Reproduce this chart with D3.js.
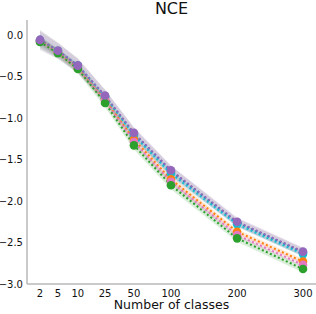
<!DOCTYPE html>
<html>
<head>
<meta charset="utf-8">
<script src="https://cdn.jsdelivr.net/npm/d3@7"></script>
<style>
  body { margin: 0; background: #fff; }
  text { font-family: "DejaVu Sans", sans-serif; }
</style>
</head>
<body>
<div id="chart"></div>
<script>
const classes = [2, 5, 10, 25, 50, 100, 200, 300];
const yTicks = [0, -0.5, -1, -1.5, -2, -2.5, -3];

const blueVals   = [-0.06, -0.19, -0.37, -0.74, -1.19, -1.64, -2.26, -2.62];
const cyanVals   = [-0.07, -0.20, -0.38, -0.75, -1.21, -1.67, -2.28, -2.64];
const orangeVals = [-0.07, -0.21, -0.40, -0.78, -1.26, -1.74, -2.37, -2.73];
const pinkVals   = [-0.08, -0.21, -0.40, -0.79, -1.29, -1.77, -2.41, -2.77];
const greenVals  = [-0.085, -0.22, -0.41, -0.82, -1.33, -1.81, -2.45, -2.82];
const purpleVals = [-0.06, -0.19, -0.37, -0.73, -1.18, -1.63, -2.25, -2.61];
// half-widths of the shaded bands
const blueErr   = [0.12, 0.10, 0.09, 0.08, 0.07, 0.06, 0.05, 0.05];
const cyanErr   = [0.05, 0.04, 0.04, 0.04, 0.04, 0.04, 0.03, 0.03];
const orangeErr = [0.04, 0.04, 0.04, 0.04, 0.04, 0.04, 0.03, 0.03];
const pinkErr   = [0.04, 0.04, 0.04, 0.04, 0.04, 0.04, 0.03, 0.03];
const greenErr  = [0.06, 0.05, 0.05, 0.05, 0.05, 0.05, 0.04, 0.04];
const purpleErr = [0.10, 0.09, 0.08, 0.07, 0.07, 0.06, 0.05, 0.05];

const colors = {
  blue: '#1f77b4', cyan: '#17becf', orange: '#ff7f0e',
  pink: '#e377c2', green: '#2ca02c', purple: '#9467bd', gray: '#7f7f7f'
};
const series = [
  { name: 'blue', vals: blueVals, err: blueErr },
  { name: 'cyan', vals: cyanVals, err: cyanErr },
  { name: 'orange', vals: orangeVals, err: orangeErr },
  { name: 'pink', vals: pinkVals, err: pinkErr },
  { name: 'green', vals: greenVals, err: greenErr },
  { name: 'purple', vals: purpleVals, err: purpleErr }
];

const width = 316, height = 314;
const plotLeft = 27, plotRight = 316, plotTop = 20, plotBottom = 284;
const plotW = plotRight - plotLeft;
// tick spacing on the x axis is uneven, so map each class count to its spot
const xFrac = [0.045, 0.107, 0.176, 0.270, 0.370, 0.498, 0.727, 0.955];

const x = d3.scaleLinear()
  .domain(classes)
  .range(xFrac.map(f => plotLeft + f * plotW));
const y = d3.scaleLinear().domain([-3, 0.18]).range([plotBottom, plotTop]);

const svg = d3.select('#chart').append('svg')
  .attr('width', width)
  .attr('height', height);

// bands
const area = d3.area()
  .x((d, i) => x(classes[i]))
  .y0(d => y(d[0]))
  .y1(d => y(d[1]));
series.forEach(s => {
  svg.append('path')
    .datum(s.vals.map((v, i) => [v - s.err[i], v + s.err[i]]))
    .attr('d', area)
    .attr('fill', s.name === 'blue' ? colors.gray : colors[s.name])
    .attr('fill-opacity', s.name === 'blue' ? 0.22 : 0.18);
});

// dotted lines
const line = d3.line()
  .x((d, i) => x(classes[i]))
  .y(d => y(d));
series.forEach(s => {
  svg.append('path')
    .datum(s.vals)
    .attr('d', line)
    .attr('fill', 'none')
    .attr('stroke', colors[s.name])
    .attr('stroke-width', 2)
    .attr('stroke-dasharray', '2,2.4');
});

// markers
series.forEach(s => {
  svg.append('g')
    .selectAll('circle')
    .data(s.vals)
    .enter()
    .append('circle')
    .attr('cx', (d, i) => x(classes[i]))
    .attr('cy', d => y(d))
    .attr('r', 4.3)
    .attr('fill', colors[s.name]);
});

// spines
svg.append('line')
  .attr('x1', plotLeft).attr('x2', plotLeft)
  .attr('y1', plotTop).attr('y2', plotBottom)
  .attr('stroke', '#b8b8b8').attr('stroke-width', 1.5);
svg.append('line')
  .attr('x1', plotLeft).attr('x2', plotRight)
  .attr('y1', plotBottom).attr('y2', plotBottom)
  .attr('stroke', '#b8b8b8').attr('stroke-width', 1.5);

// tick labels
svg.append('g')
  .selectAll('text')
  .data(classes)
  .enter()
  .append('text')
  .attr('x', d => x(d))
  .attr('y', 296.5)
  .attr('text-anchor', 'middle')
  .attr('font-size', 10)
  .attr('fill', '#111')
  .text(d => d);

svg.append('g')
  .selectAll('text')
  .data(yTicks)
  .enter()
  .append('text')
  .attr('x', 23)
  .attr('y', d => y(d) + 3.6)
  .attr('text-anchor', 'end')
  .attr('font-size', 10)
  .attr('fill', '#111')
  .text(d => d3.format('.1f')(d).replace('-', '\u2212'));

svg.append('text')
  .attr('x', (plotLeft + plotRight) / 2)
  .attr('y', 309)
  .attr('text-anchor', 'middle')
  .attr('font-size', 12.5)
  .attr('fill', '#111')
  .text('Number of classes');

svg.append('text')
  .attr('x', (plotLeft + plotRight) / 2)
  .attr('y', 14)
  .attr('text-anchor', 'middle')
  .attr('font-size', 16)
  .attr('fill', '#111')
  .text('NCE');
</script>
</body>
</html>
